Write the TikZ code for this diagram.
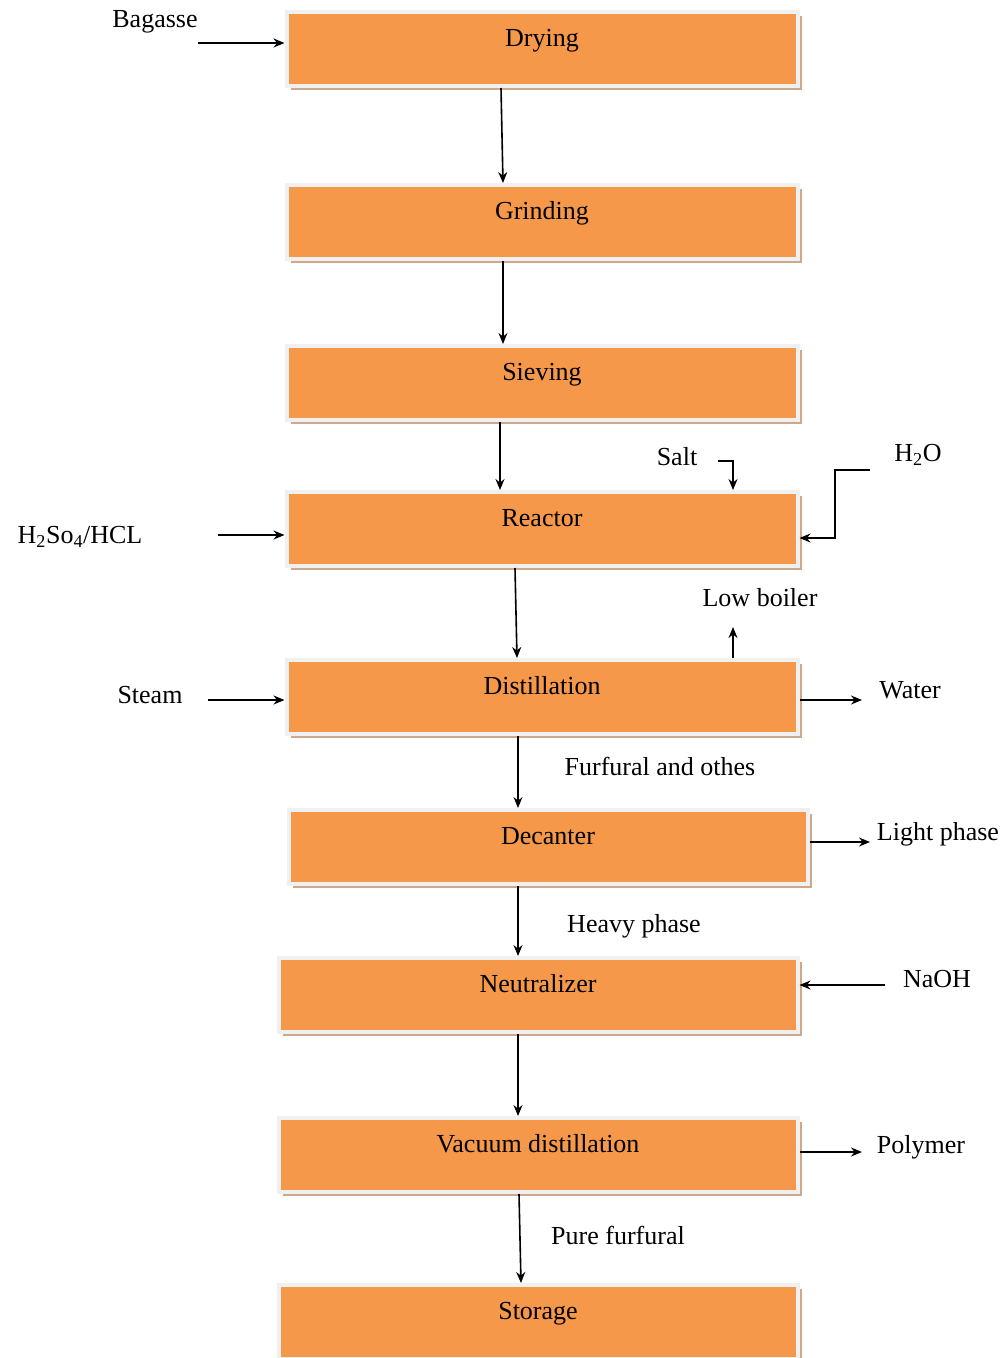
\documentclass[tikz,border=0pt]{standalone}
\usepackage{fontspec}
\setmainfont{Liberation Serif}
\usetikzlibrary{shadows,arrows.meta}
\definecolor{boxorange}{RGB}{245,152,74}
\definecolor{boxshadow}{RGB}{205,168,138}
\begin{document}
\begin{tikzpicture}[x=1pt,y=-1pt,
	procbox/.style={rectangle,fill=boxorange,draw=black!6,line width=4pt,
		minimum width=511pt,minimum height=74pt,text height=30pt,text depth=36pt,
		inner ysep=4pt,inner xsep=0pt,font=\fontsize{26}{30}\selectfont,
		drop shadow={shadow xshift=4pt,shadow yshift=-4pt,fill=boxshadow,opacity=1}},
	tag/.style={font=\fontsize{26}{30}\selectfont,inner sep=2pt},
	flow/.style={->,>={Stealth[length=11pt,width=9pt]},line width=1.6pt}]
%			\draw[step=50pt,red,very thin] (0,0) grid (1004,1358);
			\useasboundingbox (0,0) rectangle (1004,1358);

			% process boxes
			\node[procbox] (dry) at (542,49) {Drying};
			\node[procbox] (grind) at (542,222) {Grinding};
			\node[procbox] (sieve) at (542,383) {Sieving};
			\node[procbox] (react) at (542,529) {Reactor};
			\node[procbox] (distil) at (542,697) {Distillation};
			\node[procbox,minimum width=519pt] (decant) at (548,847) {Decanter};
			\node[procbox,minimum width=519pt] (neutr) at (538,995) {Neutralizer};
			\node[procbox,minimum width=519pt] (vacuum) at (538,1155) {Vacuum distillation};
			\node[procbox,minimum width=519pt] (store) at (538,1322) {Storage};

			% main line
			\draw[flow] ([xshift=-41pt]dry.south) -- ([xshift=-39pt]grind.north);
			\draw[flow] ([xshift=-39pt]grind.south) -- ([xshift=-39pt]sieve.north);
			\draw[flow] ([xshift=-42pt]sieve.south) -- ([xshift=-42pt]react.north);
			\draw[flow] ([xshift=-27pt]react.south) -- ([xshift=-25pt]distil.north);
			\draw[flow] ([xshift=-24pt]distil.south) -- ([xshift=-30pt]decant.north);
			\draw[flow] ([xshift=-30pt]decant.south) -- ([xshift=-20pt]neutr.north);
			\draw[flow] ([xshift=-20pt]neutr.south) -- ([xshift=-20pt]vacuum.north);
			\draw[flow] ([xshift=-19pt]vacuum.south) -- ([xshift=-17pt]store.north);

			\node[tag] (furf) at (660,766) {Furfural and othes};
			\node[tag] (heavy) at (634,926) {Heavy phase};
			\node[tag] (pure) at (618,1235) {Pure furfural};

			% feeds
			\node[tag] (bagasse) at (155,22) {Bagasse};
			\coordinate (bagin) at (198,43);
			\draw[flow] (bagin) -- (bagin -| dry.west);

			\node[tag] (acid) at (80,537) {H\textsubscript{2}So\textsubscript{4}/HCL};
			\coordinate (acidin) at (218,535);
			\draw[flow] (acidin) -- (acidin -| react.west);

			\node[tag] (salt) at (677,457) {Salt};
			\coordinate (saltin) at (718,461);
			\draw[flow] (saltin) -| ([xshift=191pt]react.north);

			\node[tag] (h2o) at (918,455) {H\textsubscript{2}O};
			\coordinate (h2oin) at (870,470);
			\draw[flow] (h2oin) -- ++(-35,0) |- ([yshift=-9pt]react.east);

			\node[tag] (steam) at (150,695) {Steam};
			\coordinate (steamin) at (208,700);
			\draw[flow] (steamin) -- (steamin -| distil.west);

			\node[tag] (naoh) at (937,979) {NaOH};
			\coordinate (naohin) at (885,985);
			\draw[flow] (naohin) -- (naohin -| neutr.east);

			% products
			\node[tag] (lowboil) at (760,598) {Low boiler};
			\coordinate (lowout) at (733,627);
			\draw[flow] (lowout |- distil.north) -- (lowout);

			\node[tag] (water) at (910,690) {Water};
			\coordinate (waterout) at (862,700);
			\draw[flow] (waterout -| distil.east) -- (waterout);

			\node[tag] (light) at (938,834) {Light phase};
			\coordinate (lightout) at (870,842);
			\draw[flow] (lightout -| decant.east) -- (lightout);

			\node[tag] (polymer) at (921,1147) {Polymer};
			\coordinate (polyout) at (862,1152);
			\draw[flow] (polyout -| vacuum.east) -- (polyout);
	\end{tikzpicture}
\end{document}
